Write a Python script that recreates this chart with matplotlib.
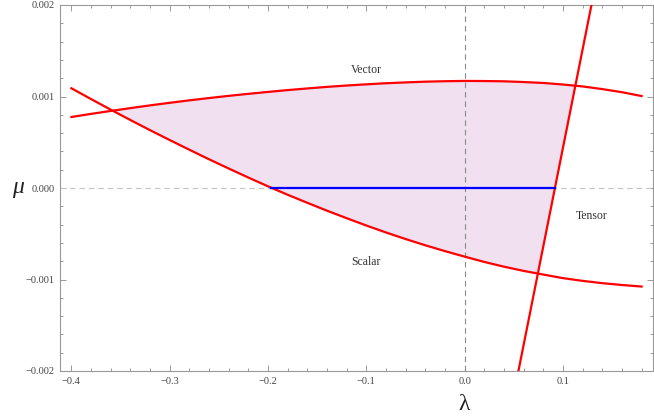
import numpy as np
import matplotlib
matplotlib.use("Agg")
import matplotlib.pyplot as plt
from matplotlib.ticker import MultipleLocator, FixedLocator

# ---- data ----
lam = [-0.40, -0.38, -0.36, -0.34, -0.32, -0.30, -0.28, -0.26, -0.24, -0.22,
       -0.20, -0.18, -0.16, -0.14, -0.12, -0.10, -0.08, -0.06, -0.04, -0.02,
       0.00, 0.02, 0.04, 0.06, 0.08, 0.10, 0.12, 0.14, 0.16, 0.18]
vector_mu = [0.000776, 0.000810, 0.000842, 0.000873, 0.000903, 0.000931,
             0.000958, 0.000983, 0.001007, 0.001029, 0.001050, 0.001070,
             0.001088, 0.001105, 0.001120, 0.001133, 0.001145, 0.001154,
             0.001162, 0.001167, 0.001170, 0.001169, 0.001166, 0.001158,
             0.001148, 0.001131, 0.001110, 0.001081, 0.001047, 0.001005]
scalar_mu = [0.001090, 0.000972, 0.000856, 0.000743, 0.000632, 0.000524,
             0.000418, 0.000314, 0.000213, 0.000114, 0.000018, -0.000074,
             -0.000162, -0.000248, -0.000330, -0.000410, -0.000486, -0.000558,
             -0.000626, -0.000690, -0.000750, -0.000808, -0.000860, -0.000906,
             -0.000946, -0.000985, -0.001015, -0.001040, -0.001060, -0.001077]
tensor_lam = [0.0547, 0.129]
tensor_mu = [-0.002, 0.002]
blue_lam = [-0.1965, 0.0915]
blue_mu = [0.0, 0.0]

x_ticks = [-0.4, -0.3, -0.2, -0.1, 0.0, 0.1]
x_ticklabels = ["\u22120.4", "\u22120.3", "\u22120.2", "\u22120.1", "0.0", "0.1"]
y_ticks = [-0.002, -0.001, 0.0, 0.001, 0.002]
y_ticklabels = ["\u22120.002", "\u22120.001", "0.000", "0.001", "0.002"]

labels = {"Vector": (-0.1, 0.00129), "Scalar": (-0.1, -0.00081), "Tensor": (0.1295, -0.00031)}

serif = ["Liberation Serif", "DejaVu Serif"]
plt.rcParams["font.family"] = serif

W, H = 654, 417
fig = plt.figure(figsize=(W / 100, H / 100), dpi=100)
ax = fig.add_axes([60 / W, (H - 371) / H, (653 - 60) / W, (371 - 5) / H])

ax.set_xlim(-0.4116, 0.1916)
ax.set_ylim(-0.002, 0.002)

# shaded allowed region
grid = np.linspace(lam[0], lam[-1], 4000)
up = np.interp(grid, lam, vector_mu)
lo_s = np.interp(grid, lam, scalar_mu)
slope = (tensor_mu[1] - tensor_mu[0]) / (tensor_lam[1] - tensor_lam[0])
lo_t = tensor_mu[0] + slope * (grid - tensor_lam[0])
lo = np.maximum(lo_s, lo_t)
ax.fill_between(grid, lo, up, where=lo < up, color="#f0e0f0", linewidth=0, zorder=1)

# reference dashed lines
ax.axvline(0.0, color="#8a8a8a", lw=0.8, ls=(0, (5, 3.5)), zorder=2)
ax.axhline(0.0, color="#c4c4c4", lw=0.8, ls=(0, (5, 3.5)), zorder=2)

# curves
ax.plot(lam, vector_mu, color="#ff0000", lw=1.6, zorder=3, solid_joinstyle="round")
ax.plot(lam, scalar_mu, color="#ff0000", lw=1.6, zorder=3, solid_joinstyle="round")
ax.plot(tensor_lam, tensor_mu, color="#ff0000", lw=1.6, zorder=3)
ax.plot(blue_lam, blue_mu, color="#0000ff", lw=1.6, zorder=4)

for name, (x, y) in labels.items():
    ax.text(x, y, name, fontsize=8.5, color="#333333", ha="center", va="center",
            family=serif)

# ticks
ax.xaxis.set_major_locator(FixedLocator(x_ticks))
ax.set_xticklabels(x_ticklabels)
ax.xaxis.set_minor_locator(MultipleLocator(0.02))
ax.yaxis.set_major_locator(FixedLocator(y_ticks))
ax.set_yticklabels(y_ticklabels)
ax.yaxis.set_minor_locator(MultipleLocator(0.0002))

ax.tick_params(which="both", direction="in", top=True, right=True,
               color="#999999", labelsize=7.5, labelcolor="#444444", width=0.7)
ax.tick_params(which="major", length=4.5, pad=4)
ax.tick_params(which="minor", length=2.5)
for sp in ax.spines.values():
    sp.set_color("#999999")
    sp.set_linewidth(0.8)

fig.text(18 / W, 1 - 188 / H, "\u03bc", fontsize=17, style="italic",
         ha="center", va="center", color="#222222", family=serif)
fig.text(464 / W, 1 - 405 / H, "\u03bb", fontsize=17,
         ha="center", va="center", color="#222222", family=serif)

fig.savefig("out.png", dpi=100)
